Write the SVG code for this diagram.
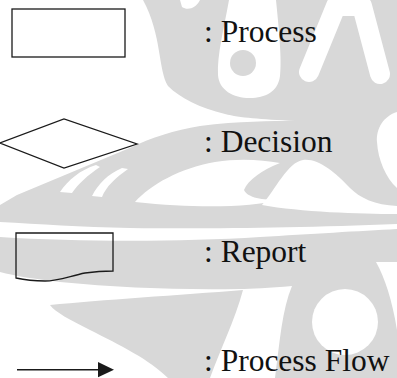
<svg xmlns="http://www.w3.org/2000/svg" width="397" height="378" viewBox="0 0 397 378">
  <defs>
    <style>
      .wm { fill: #d8d8d8; stroke: none; }
      .wh { fill: #ffffff; stroke: none; }
      .whs { fill: none; stroke: #ffffff; stroke-linecap: round; stroke-linejoin: round; }
      .shape { fill: none; stroke: #1a1a1a; stroke-width: 1.3; }
      .label { font-size: 31.5px; fill: #111111; }
      .flow { stroke: #1a1a1a; stroke-width: 1.5; fill: none; }
    </style>
  </defs>
  <rect width="397" height="378" fill="#ffffff"/>

  <!-- faint background emblem -->
  <g id="watermark">
    <!-- upper mass with tongue, fish tail and first swoosh -->
    <path class="wm" d="M143,0 H397 V224 C300,228 200,229 130,228 C80,227 40,224 0,222 L0,205 L17,195 L132,147 C150,138 175,130 200,126 C240,121 270,121 295,121 C260,119 240,118 225,114 C200,108 180,98 168,86 C158,70 162,35 143,0 Z"/>
    <!-- report swoosh and ring -->
    <path class="wm" d="M0,237 C80,242 180,242 260,237 C310,234 360,231 397,229 V378 H275 C280,340 282,310 292,286 C270,288 250,289 240,289 C180,290 120,288 60,282 C35,279 15,276 0,272 Z"/>
    <!-- lower bowl -->
    <path class="wm" d="M50,305 C100,300 180,295 243,290 C235,320 220,350 210,378 H168 C150,360 120,345 90,330 C70,320 55,312 50,305 Z"/>

    <!-- openings in the emblem -->
    <path class="wh" d="M180,0 H200 C196,8 188,11 182,7 Z"/>
    <path class="wh" d="M229,0 H276 C279,30 282,60 280,76 C278,92 265,98 250,98 C233,98 219,90 218,75 C217,55 224,28 229,0 Z"/>
    <circle class="wm" cx="243" cy="63" r="13"/>
    <path class="whs" stroke-width="20" d="M309,72 L336,6 L362,6 L380,74"/>
    <path class="wh" d="M397,112 C384,116 376,128 377,142 C378,160 386,178 397,188 Z"/>
    <path class="wh" d="M135,202 C150,185 180,168 215,162 C240,158 262,160 280,163 C262,170 248,180 244,190 C248,198 262,200 280,200 C250,207 200,209 135,202 Z"/>
    <path class="wh" d="M262,205 C275,190 288,162 303,160 C318,158 335,172 350,188 C360,198 375,205 397,206 L397,214 C360,214 300,212 262,205 Z"/>
    <path class="wh" d="M60,192 C68,180 80,170 96,165 L100,167 C88,175 78,184 72,193 Z"/>
    <path class="wh" d="M92,196 C98,184 108,174 122,168 L128,169 C115,178 106,187 102,197 Z"/>
    <circle class="wh" cx="345" cy="322" r="33"/>
    <path class="wh" d="M376,262 C385,278 392,300 397,330 V262 Z"/>
  </g>

  <g id="process">
    <rect class="shape" x="12" y="9" width="113" height="48"/>
    <text class="label" font-family="'Liberation Serif', 'Times New Roman', serif" x="204" y="41.7">: Process</text>
  </g>

  <g id="decision">
    <polygon class="shape" points="0,143 64,119 137,144 64,168"/>
    <text class="label" font-family="'Liberation Serif', 'Times New Roman', serif" x="204" y="152.3">: Decision</text>
  </g>

  <g id="report">
    <path class="shape" d="M16,233 H113 V271 C100,271 92,272 85,273 C70,276 58,281 45,281 C33,281 25,280 16,278 Z"/>
    <text class="label" font-family="'Liberation Serif', 'Times New Roman', serif" x="204" y="262.3">: Report</text>
  </g>

  <g id="connectors">
    <line class="flow" x1="17" y1="369.7" x2="100" y2="369.7"/>
    <polygon fill="#1a1a1a" points="98,362 114,369.7 98,377.3"/>
  </g>

  <g id="process-flow">
    <text class="label" font-family="'Liberation Serif', 'Times New Roman', serif" x="204" y="371">: Process Flow</text>
  </g>
</svg>
